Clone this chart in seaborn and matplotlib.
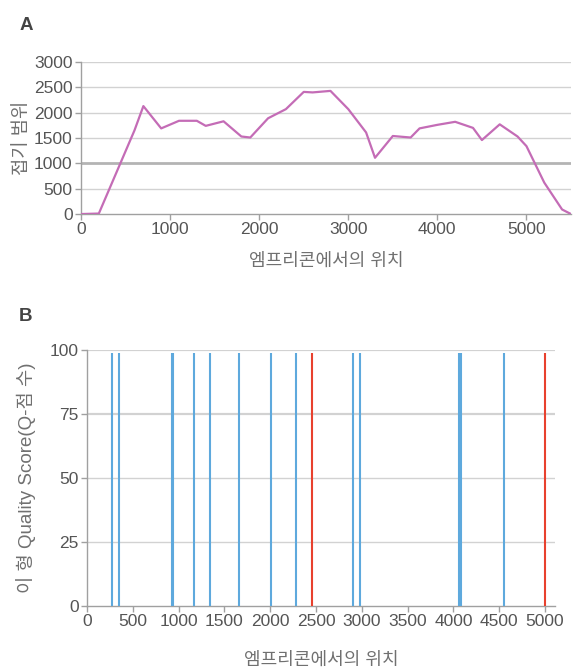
import matplotlib
matplotlib.use("Agg")
import matplotlib.pyplot as plt
import seaborn as sns
import pandas as pd

# ---- Data: panel A (coverage along amplicon) ----
cov_pos = [0, 200, 600, 700, 900, 1100, 1300, 1400, 1600, 1800, 1900, 2100, 2300,
           2500, 2600, 2800, 3000, 3200, 3300, 3500, 3700, 3800, 4000, 4200, 4400,
           4500, 4700, 4900, 5000, 5200, 5400, 5500]
cov_val = [0, 10, 1650, 2130, 1690, 1840, 1840, 1740, 1830, 1530, 1510, 1890, 2070,
           2410, 2400, 2430, 2070, 1610, 1110, 1540, 1510, 1690, 1760, 1820, 1700,
           1460, 1770, 1530, 1340, 620, 90, 0]

# ---- Data: panel B (variant positions with quality) ----
var_pos = [276, 349, 925, 940, 1168, 1340, 1659, 2005, 2280, 2460, 2904, 2977,
           4058, 4068, 4078, 4552, 5000]
var_q = [99] * len(var_pos)
var_type = ["pass", "pass", "pass", "pass", "pass", "pass", "pass", "pass", "pass",
            "low", "pass", "pass", "pass", "pass", "pass", "pass", "low"]

xlabel = "엠프리콘에서의 위치"
ylabel_a = "접기 범위"
ylabel_b = "이 형 Quality Score(Q-점 수)"
a_yticks = [0, 500, 1000, 1500, 2000, 2500, 3000]
a_xticks = [0, 1000, 2000, 3000, 4000, 5000]
b_yticks = [0, 25, 50, 75, 100]
b_xticks = list(range(0, 5001, 500))

sns.set_theme(style="white")
plt.rcParams["font.family"] = ["Liberation Sans", "Noto Sans CJK KR", "DejaVu Sans"]

TXT = "#555555"
LBL = "#707070"
GRID = "#d2d2d2"
SPINE = "#a0a0a0"

fig = plt.figure(figsize=(5.77, 6.71), dpi=100)
axA = fig.add_axes([0.1404, 0.681, 0.8492, 0.2266])
axB = fig.add_axes([0.1508, 0.0969, 0.8112, 0.3815])

def style(ax):
    for s in ["top", "right"]:
        ax.spines[s].set_visible(False)
    for s in ["left", "bottom"]:
        ax.spines[s].set_color(SPINE)
        ax.spines[s].set_linewidth(1.0)
    ax.tick_params(axis="both", colors=SPINE, labelcolor=TXT, labelsize=12.5,
                   length=4, width=1, pad=2, direction="out", left=True, bottom=True)
    ax.grid(False)

# Panel A
dfA = pd.DataFrame({"pos": cov_pos, "cov": cov_val})
for v in a_yticks[1:]:
    if v == 1000:
        axA.axhline(v, color="#b4b4b4", lw=2.0, zorder=1)
    else:
        axA.axhline(v, color=GRID, lw=1.0, zorder=1)
sns.lineplot(data=dfA, x="pos", y="cov", ax=axA, color="#c46cb6", lw=1.6, zorder=3)
axA.set_xlim(0, 5500)
axA.set_ylim(0, 3000)
axA.set_xticks(a_xticks)
axA.set_yticks(a_yticks)
style(axA)
axA.set_xlabel(xlabel, color=LBL, fontsize=13, labelpad=11)
axA.set_ylabel(ylabel_a, color=LBL, fontsize=13.5, labelpad=2)

# Panel B
dfB = pd.DataFrame({"pos": var_pos, "q": var_q, "type": var_type})
for v in b_yticks[1:]:
    lw = 1.6 if v in (75, 100) else 1.0
    axB.axhline(v, color=GRID, lw=lw, zorder=1)
palette = {"pass": "#5ea9dd", "low": "#e8412e"}
for t, sub in dfB.groupby("type"):
    axB.vlines(sub["pos"], 0, sub["q"], color=palette[t], lw=1.5, zorder=3)
axB.set_xlim(0, 5110)
axB.set_ylim(0, 100)
axB.set_xticks(b_xticks)
axB.set_yticks(b_yticks)
style(axB)
axB.set_xlabel(xlabel, color=LBL, fontsize=13, labelpad=16)
axB.set_ylabel(ylabel_b, color=LBL, fontsize=13.5, labelpad=10)

fig.text(0.033, 0.962, "A", fontsize=13.5, fontweight="bold", color="#444444", va="center")
fig.text(0.033, 0.528, "B", fontsize=13.5, fontweight="bold", color="#444444", va="center")

fig.savefig("out.png", dpi=100)
